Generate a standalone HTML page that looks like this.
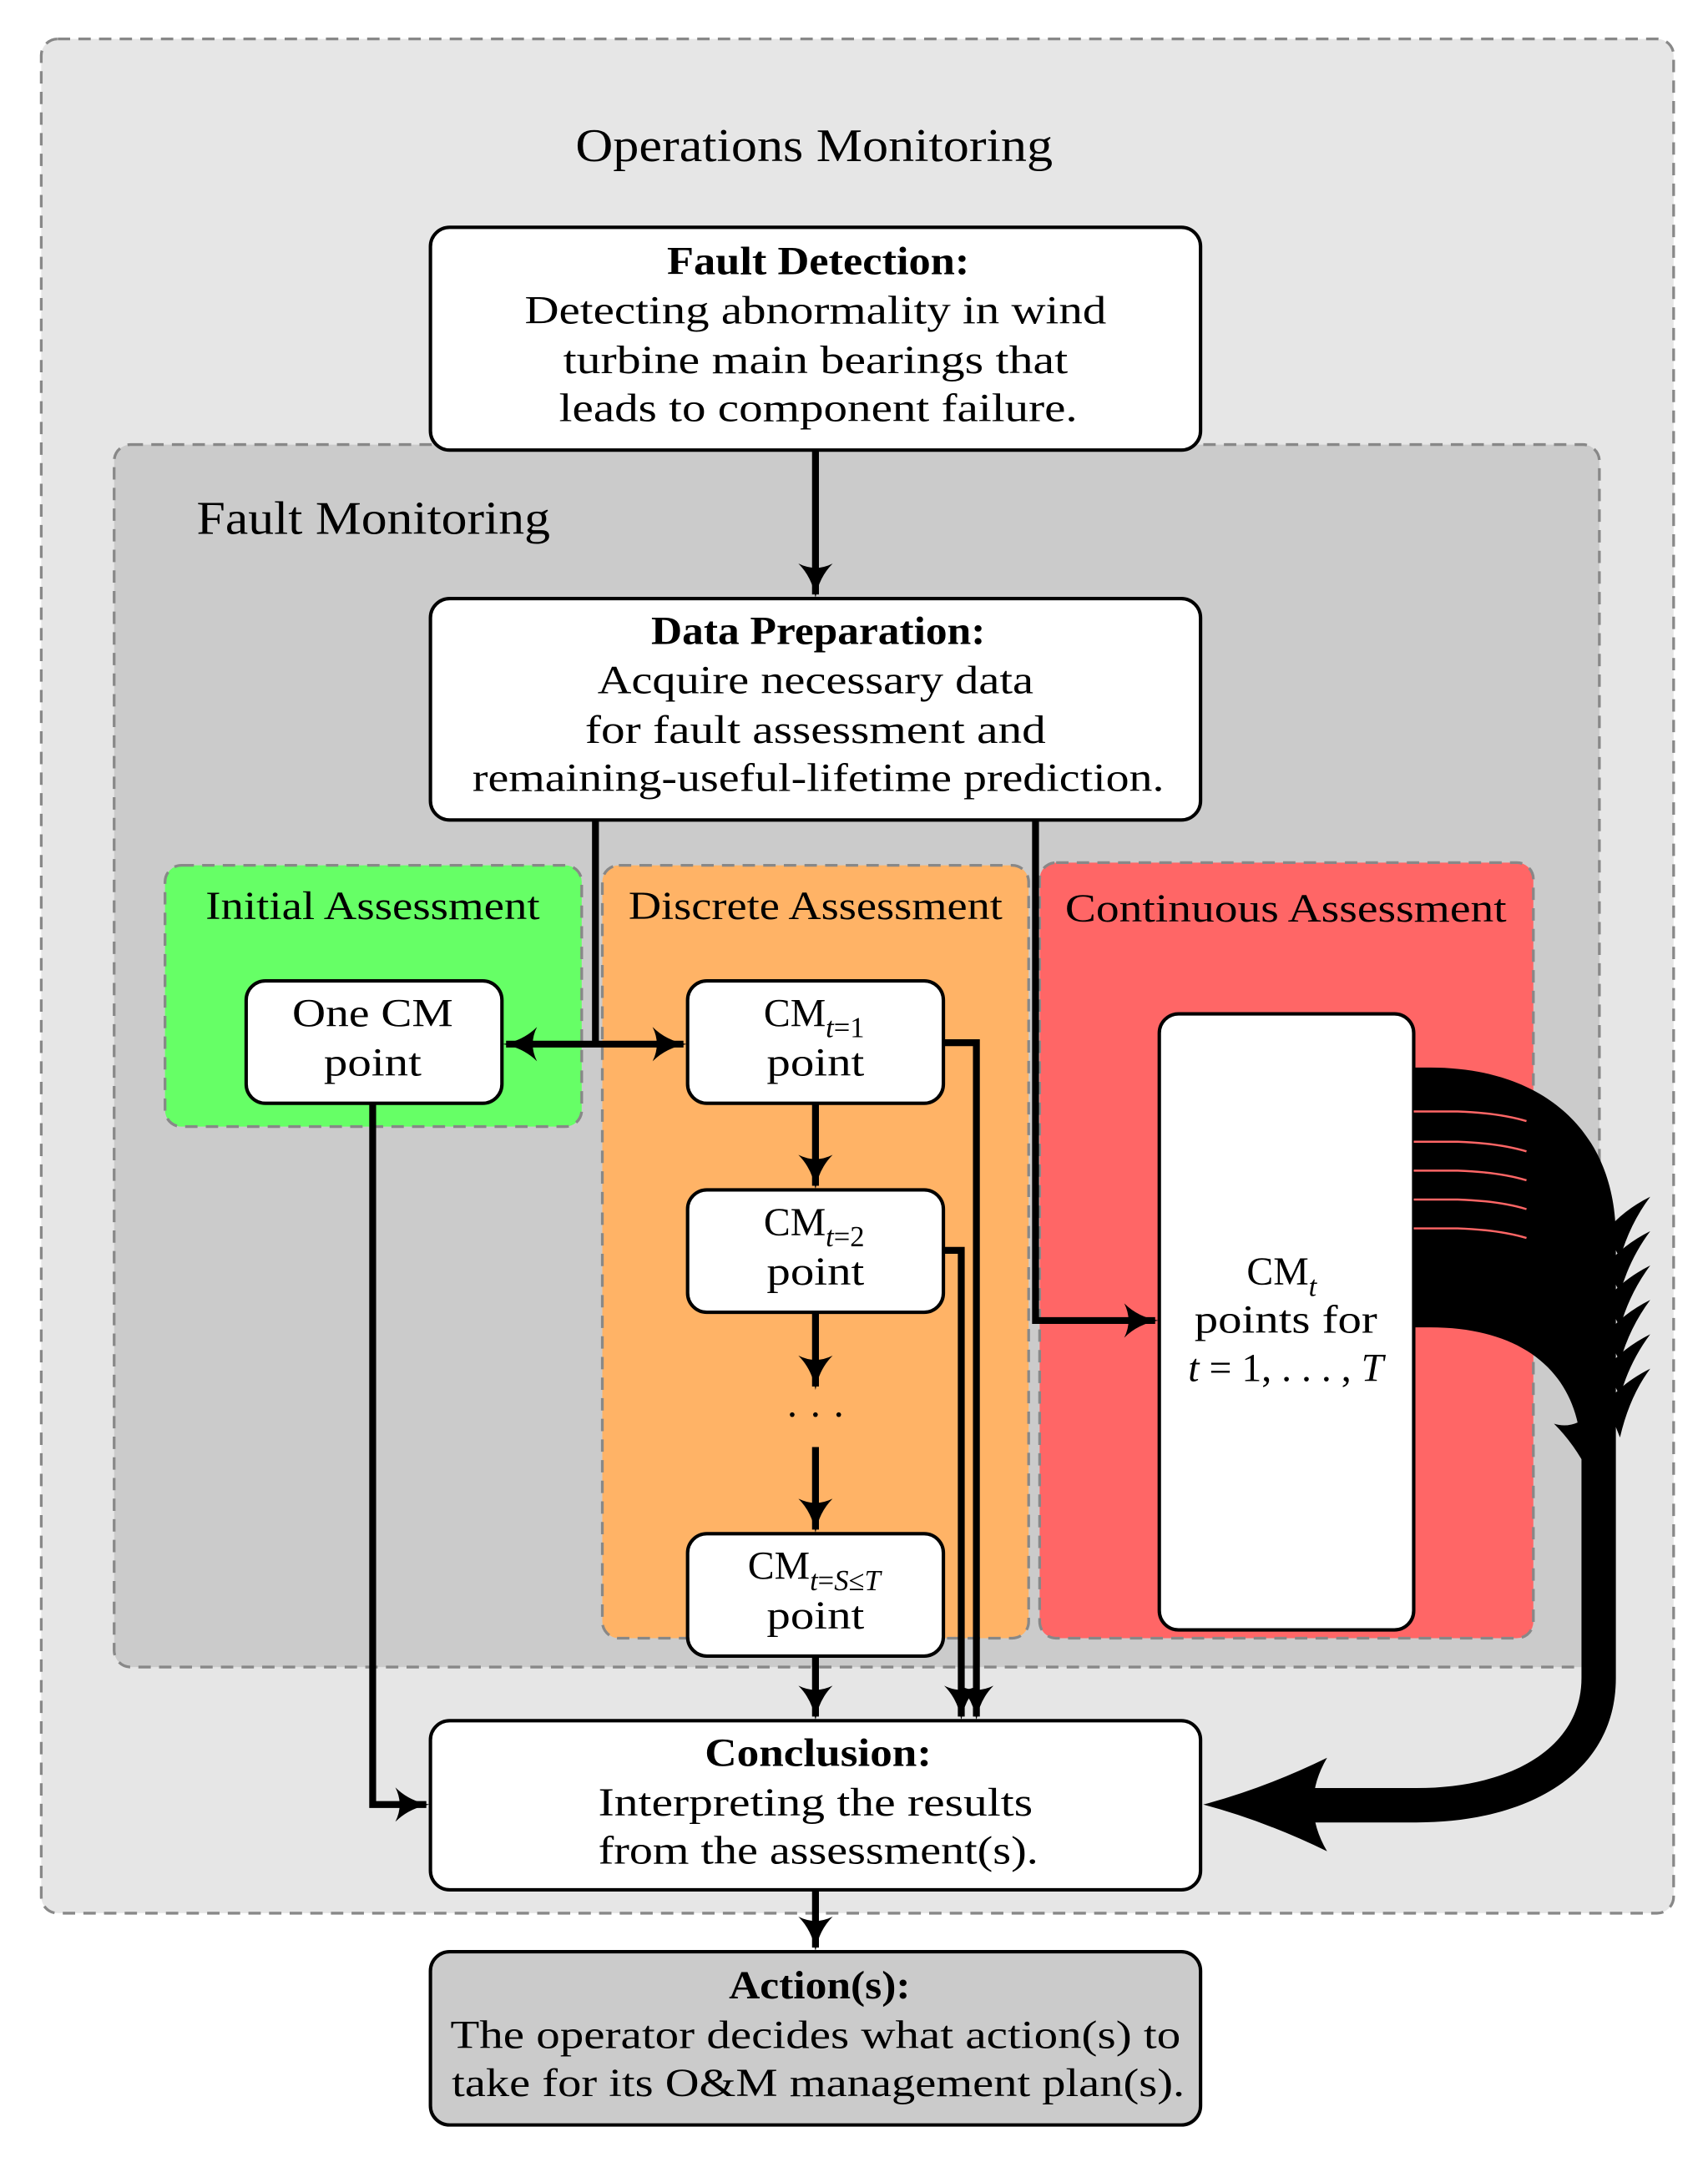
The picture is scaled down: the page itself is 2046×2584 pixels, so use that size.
<!DOCTYPE html>
<html><head><meta charset="utf-8"><style>
html,body{margin:0;padding:0;background:#fff}
svg{display:block}
text{font-family:"Liberation Serif",serif;fill:#000}
</style></head><body>
<svg width="2046" height="2584" viewBox="0 0 1242 1568" xmlns="http://www.w3.org/2000/svg">
<defs>
<marker id="a" viewBox="0 0 20 20" refX="18" refY="10" markerWidth="5" markerHeight="5" markerUnits="strokeWidth" orient="auto">
<path d="M0,0 Q8,8 20,10 Q8,12 0,20 Q5,10 0,0Z" fill="#000"/>
</marker>
<marker id="b" viewBox="0 0 20 20" refX="2" refY="10" markerWidth="5" markerHeight="5" markerUnits="strokeWidth" orient="auto">
<path d="M20,0 Q12,8 0,10 Q12,12 20,20 Q15,10 20,0Z" fill="#000"/>
</marker>
</defs>
<rect x="30" y="28" width="1187" height="1363" rx="12" fill="#e6e6e6" stroke="#888" stroke-width="2" stroke-dasharray="9,6"/>
<text x="592" y="117" font-size="34" text-anchor="middle" textLength="347" lengthAdjust="spacingAndGlyphs">Operations Monitoring</text>
<rect x="83" y="323" width="1080" height="889" rx="12" fill="#cbcbcb" stroke="#888" stroke-width="2" stroke-dasharray="9,6"/>
<text x="143" y="388" font-size="34" textLength="257" lengthAdjust="spacingAndGlyphs">Fault Monitoring</text>

<rect x="120" y="629" width="303" height="190" rx="12" fill="#66ff66" stroke="#888" stroke-width="2" stroke-dasharray="9,6"/>
<rect x="438" y="629" width="310" height="562" rx="12" fill="#ffb366" stroke="#888" stroke-width="2" stroke-dasharray="9,6"/>
<rect x="756" y="627" width="359" height="564" rx="12" fill="#ff6666" stroke="#888" stroke-width="2" stroke-dasharray="9,6"/>
<g font-size="29" text-anchor="middle" lengthAdjust="spacingAndGlyphs">
<text x="271" y="668" textLength="243" lengthAdjust="spacingAndGlyphs">Initial Assessment</text>
<text x="593" y="668" textLength="272" lengthAdjust="spacingAndGlyphs">Discrete Assessment</text>
<text x="935" y="670" textLength="321" lengthAdjust="spacingAndGlyphs">Continuous Assessment</text>
</g>

<g stroke="#000" stroke-width="2.5">
<rect x="313" y="165" width="560" height="162" rx="14" fill="#fff"/>
<rect x="313" y="435" width="560" height="161" rx="14" fill="#fff"/>
<rect x="179" y="713" width="186" height="89" rx="14" fill="#fff"/>
<rect x="500" y="713" width="186" height="89" rx="14" fill="#fff"/>
<rect x="500" y="865" width="186" height="89" rx="14" fill="#fff"/>
<rect x="500" y="1115" width="186" height="89" rx="14" fill="#fff"/>
<rect x="843" y="737" width="185" height="448" rx="14" fill="#fff"/>
<rect x="313" y="1251" width="560" height="123" rx="14" fill="#fff"/>
<rect x="313" y="1419" width="560" height="126" rx="14" fill="#cbcbcb"/>
</g>

<g font-size="29" text-anchor="middle">
<text x="595" y="199" font-weight="bold" textLength="220" lengthAdjust="spacingAndGlyphs">Fault Detection:</text>
<text x="593" y="235" textLength="423" lengthAdjust="spacingAndGlyphs">Detecting abnormality in wind</text>
<text x="593" y="271" textLength="367" lengthAdjust="spacingAndGlyphs">turbine main bearings that</text>
<text x="595" y="306" textLength="377" lengthAdjust="spacingAndGlyphs">leads to component failure.</text>
<text x="595" y="468" font-weight="bold" textLength="243" lengthAdjust="spacingAndGlyphs">Data Preparation:</text>
<text x="593" y="504" textLength="317" lengthAdjust="spacingAndGlyphs">Acquire necessary data</text>
<text x="593" y="540" textLength="335" lengthAdjust="spacingAndGlyphs">for fault assessment and</text>
<text x="595" y="575" textLength="503" lengthAdjust="spacingAndGlyphs">remaining-useful-lifetime prediction.</text>
<text x="271" y="746" textLength="117" lengthAdjust="spacingAndGlyphs">One CM</text>
<text x="271" y="782" textLength="71" lengthAdjust="spacingAndGlyphs">point</text>
<text x="592" y="746">CM<tspan font-size="21" font-style="italic" dy="8">t</tspan><tspan font-size="21" dy="0">=1</tspan></text>
<text x="593" y="782" textLength="71" lengthAdjust="spacingAndGlyphs">point</text>
<text x="592" y="898">CM<tspan font-size="21" font-style="italic" dy="8">t</tspan><tspan font-size="21">=2</tspan></text>
<text x="593" y="934" textLength="71" lengthAdjust="spacingAndGlyphs">point</text>
<text x="593" y="1038">· · ·</text>
<text x="592" y="1148">CM<tspan font-size="21" font-style="italic" dy="8">t</tspan><tspan font-size="21">=</tspan><tspan font-size="21" font-style="italic">S</tspan><tspan font-size="21">≤</tspan><tspan font-size="21" font-style="italic">T</tspan></text>
<text x="593" y="1184" textLength="71" lengthAdjust="spacingAndGlyphs">point</text>
<text x="932" y="934">CM<tspan font-size="21" font-style="italic" dy="8">t</tspan></text>
<text x="935" y="969" textLength="133" lengthAdjust="spacingAndGlyphs">points for</text>
<text x="935" y="1004"><tspan font-style="italic">t</tspan> = 1, . . . , <tspan font-style="italic">T</tspan></text>
<text x="595" y="1284" font-weight="bold" textLength="165" lengthAdjust="spacingAndGlyphs">Conclusion:</text>
<text x="593" y="1320" textLength="316" lengthAdjust="spacingAndGlyphs">Interpreting the results</text>
<text x="595" y="1355" textLength="320" lengthAdjust="spacingAndGlyphs">from the assessment(s).</text>
<text x="596" y="1453" font-weight="bold" textLength="132" lengthAdjust="spacingAndGlyphs">Action(s):</text>
<text x="593" y="1489" textLength="531" lengthAdjust="spacingAndGlyphs">The operator decides what action(s) to</text>
<text x="595" y="1524" textLength="533" lengthAdjust="spacingAndGlyphs">take for its O&amp;M management plan(s).</text>
</g>

<g stroke="#000" stroke-width="5" fill="none">
<line x1="593" y1="327" x2="593" y2="432" marker-end="url(#a)"/>
<polyline points="433,596 433,759"/>
<line x1="368" y1="759" x2="497" y2="759" marker-start="url(#b)" marker-end="url(#a)"/>
<polyline points="753,596 753,960 840,960" marker-end="url(#a)"/>
<line x1="593" y1="802" x2="593" y2="862" marker-end="url(#a)"/>
<line x1="593" y1="954" x2="593" y2="1008" marker-end="url(#a)"/>
<line x1="593" y1="1052" x2="593" y2="1112" marker-end="url(#a)"/>
<line x1="593" y1="1204" x2="593" y2="1248" marker-end="url(#a)"/>
<polyline points="686,758 710,758 710,1248" marker-end="url(#a)"/>
<polyline points="686,909 699,909 699,1248" marker-end="url(#a)"/>
<polyline points="271,802 271,1312 310,1312" marker-end="url(#a)"/>
<line x1="593" y1="1374" x2="593" y2="1416" marker-end="url(#a)"/>
</g>

<path d="M1028,776 L1040,776 C1120,776 1175,820 1175,900 L1175,1220 C1175,1290 1110,1325 1030,1325 L950,1325 L950,1300 L1030,1300 C1100,1300 1150,1270 1150,1220 L1150,1060 C1150,1000 1110,965 1040,965 L1028,965 Z" fill="#000"/>
<g fill="#000">
<path d="M1168,895 Q1180,880 1200,870 Q1185,890 1178,915Z"/>
<path d="M1168,920 Q1180,905 1200,895 Q1185,915 1178,940Z"/>
<path d="M1168,945 Q1180,930 1200,920 Q1185,940 1178,965Z"/>
<path d="M1168,970 Q1180,955 1200,945 Q1185,965 1178,990Z"/>
<path d="M1168,995 Q1180,980 1200,970 Q1185,990 1178,1015Z"/>
<path d="M1168,1020 Q1180,1005 1200,995 Q1185,1015 1178,1045Z"/>
<path d="M1160,1025 Q1145,1040 1130,1035 Q1145,1050 1155,1070Z"/>
<path d="M875,1312 Q920,1300 965,1278 Q945,1312 965,1346 Q920,1324 875,1312Z"/>
</g>
<g stroke="#ff6666" stroke-width="1.5" fill="none">
<path d="M1028,808 L1060,808 Q1090,809 1110,815"/>
<path d="M1028,830 L1060,830 Q1090,831 1110,837"/>
<path d="M1028,851 L1060,851 Q1090,852 1110,858"/>
<path d="M1028,872 L1060,872 Q1090,873 1110,879"/>
<path d="M1028,893 L1060,893 Q1090,894 1110,900"/>
</g>
</svg>
</body></html>
